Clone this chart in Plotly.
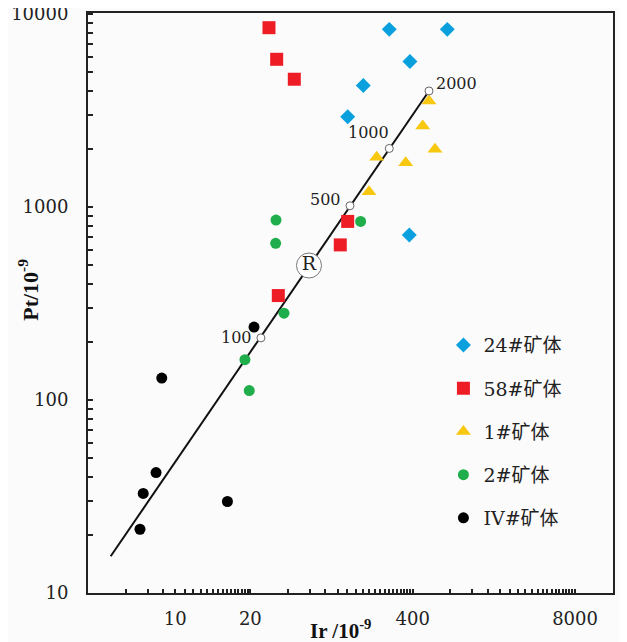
import numpy as np
import plotly.graph_objects as go

# ---------------- data ----------------
ir_24 = [259.5, 757, 380, 160.7, 120.5, 375.5]
pt_24 = [8340, 8340, 5680, 4265, 2938, 717]
ir_58 = [28.2, 32.5, 45.0, 33.5, 105.1, 120.5]
pt_58 = [8510, 5835, 4600, 348, 637, 843]
ir_1 = [540, 481, 603, 205.7, 351.5, 178.5]
pt_1 = [3548, 2636, 1995, 1811, 1698, 1202]
ir_2 = [32.1, 31.9, 153, 37.2, 18.1, 19.6]
pt_2 = [857, 649, 843, 282, 162, 112]
ir_iv = [21.4, 3.90, 3.51, 2.77, 2.61, 13.1]
pt_iv = [239, 130, 42.1, 32.8, 21.4, 29.8]

line_ir = [1.52, 540]
line_pt = [15.5, 4000]
mix_labels = ["100", "500", "1000", "2000"]
mix_ir = [24.3, 125.7, 259.5, 540]
mix_pt = [210, 1016, 2014, 4000]
r_ir = [59]
r_pt = [498]

x_tickvals = [5, 20, 400, 8000]
x_ticktext = ["10", "20", "400", "8000"]
y_tickvals = [10, 100, 1000, 10000]
y_ticktext = ["10", "100", "1000", "10000"]

names = ["24#矿体", "58#矿体", "1#矿体", "2#矿体", "IV#矿体"]
colors = ["#0aa0de", "#ee1c25", "#f8c70f", "#1fae4b", "#000000"]
symbols = ["diamond", "square", "triangle-up", "circle", "circle"]
sizes = [11.5, 13, 13, 11, 11]

# label placement (style) for the mixing-line labels
lab_anchor = ["right", "right", "right", "left"]
lab_dx = [-7, -7, 2, 5]
lab_dy = [0, 6, 16, 7]

# ---------------- figure ----------------
serif = "DejaVu Serif, Noto Sans CJK SC"
fig = go.Figure()

fig.add_trace(go.Scatter(x=line_ir, y=line_pt, mode="lines",
                         line=dict(color="#111", width=2), showlegend=False,
                         hoverinfo="skip"))

series = [(ir_24, pt_24), (ir_58, pt_58), (ir_1, pt_1), (ir_2, pt_2), (ir_iv, pt_iv)]
for i, (xs, ys) in enumerate(series):
    fig.add_trace(go.Scatter(
        x=xs, y=ys, mode="markers", name=names[i], legendgroup=names[i],
        marker=dict(symbol=symbols[i], size=sizes[i], color=colors[i],
                    line=dict(width=0))))

fig.add_trace(go.Scatter(
    x=mix_ir, y=mix_pt, mode="markers",
    marker=dict(symbol="circle", size=8, color="white",
                line=dict(color="#666", width=1)),
    showlegend=False))

for i, lab in enumerate(mix_labels):
    fig.add_annotation(
        x=np.log10(mix_ir[i]), y=np.log10(mix_pt[i]), xref="x", yref="y",
        text=lab, showarrow=False, xanchor=lab_anchor[i], yanchor="middle",
        xshift=lab_dx[i], yshift=lab_dy[i],
        font=dict(family=serif, size=16, color="#222"))

fig.add_trace(go.Scatter(
    x=r_ir, y=r_pt, mode="markers+text", text=["R"],
    textposition="middle center", textfont=dict(family=serif, size=19, color="#222"),
    marker=dict(symbol="circle", size=25, color="white",
                line=dict(color="#777", width=1)),
    showlegend=False))

# minor ticks
x_minor = []
for base in [1, 20, 400, 8000]:
    for k in range(2, 20):
        if base * k < 16000:
            x_minor.append(base * k)
y_minor = [d * k for d in [10, 100, 1000] for k in range(2, 10)]

fig.update_xaxes(
    type="log", range=[0, 4.207], automargin=False,
    tickmode="array", tickvals=x_tickvals, ticktext=x_ticktext,
    ticks="inside", ticklen=4, tickwidth=1.5, tickcolor="#222",
    minor=dict(tickmode="array", tickvals=x_minor, ticks="inside",
               ticklen=4, tickwidth=1.5, tickcolor="#222"),
    showline=True, linecolor="#222", linewidth=2, mirror=True,
    showgrid=False, zeroline=False, ticklabeloverflow="allow",
    tickfont=dict(family=serif, size=18, color="#222"),
    ticklabelstandoff=8)
fig.update_yaxes(
    type="log", range=[1.0, 4.006], automargin=False,
    tickmode="array", tickvals=y_tickvals, ticktext=y_ticktext,
    ticks="inside", ticklen=5, tickwidth=1.5, tickcolor="#222",
    minor=dict(tickmode="array", tickvals=y_minor, ticks="inside",
               ticklen=5, tickwidth=1.5, tickcolor="#222"),
    showline=True, linecolor="#222", linewidth=2, mirror=True,
    showgrid=False, zeroline=False, ticklabeloverflow="allow",
    tickfont=dict(family=serif, size=18, color="#222"),
    ticklabelstandoff=14)

fig.add_annotation(text="<b>Pt/10<sup>-9</sup></b>", xref="paper", yref="paper",
                   x=-0.114, y=0.523, textangle=-90, showarrow=False,
                   xanchor="center", yanchor="middle",
                   font=dict(family="Liberation Serif", size=22, color="#111"))
fig.add_annotation(text="<b>Ir /10<sup>-9</sup></b>", xref="paper", yref="paper",
                   x=0.48, y=-0.063, showarrow=False,
                   xanchor="center", yanchor="middle",
                   font=dict(family="Liberation Serif", size=21, color="#111"))

# the page body has an 8px margin, so the figure is sized to fit the window
fig.update_layout(
    width=619, height=634,
    margin=dict(l=80, r=14, t=5, b=49),
    paper_bgcolor="#fbfbfb", plot_bgcolor="#fbfbfb",
    legend=dict(x=0.677, y=0.46, xanchor="left", yanchor="top",
                bgcolor="rgba(0,0,0,0)", tracegroupgap=15.5,
                font=dict(family=serif, size=19, color="#222")),
)

fig.write_html("out.html")
